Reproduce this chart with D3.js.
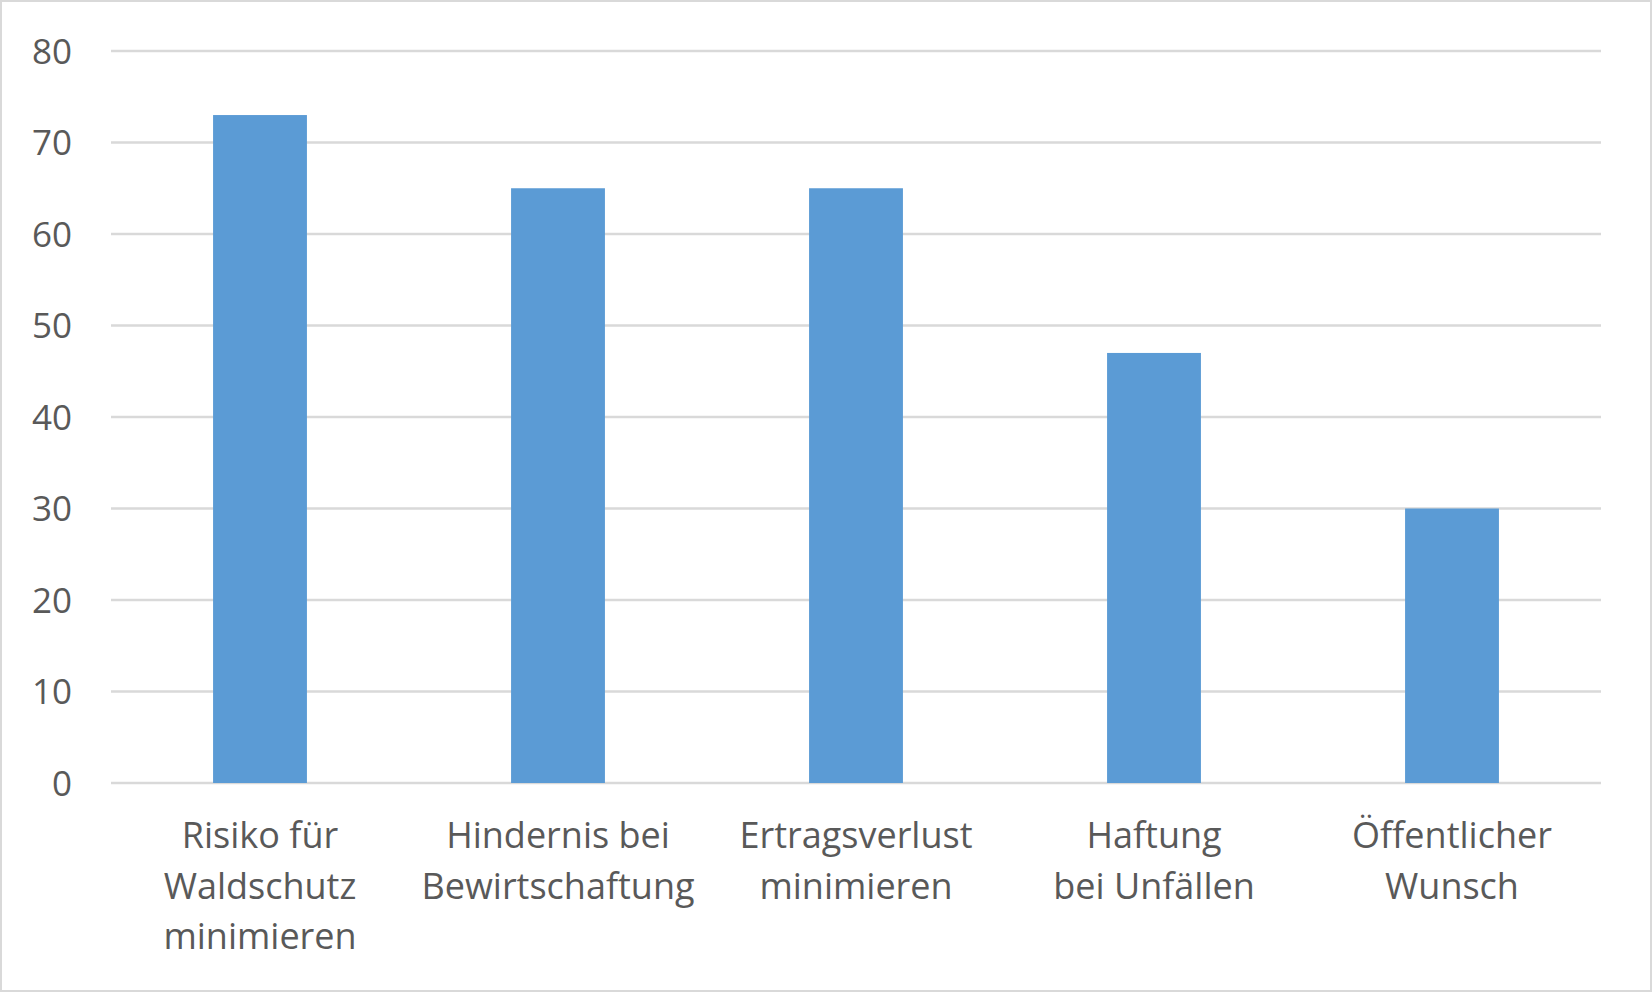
<!DOCTYPE html>
<html><head><meta charset="utf-8">
<script src="https://cdn.jsdelivr.net/npm/d3@7"></script>
<style>html,body{margin:0;padding:0;background:#fff;}svg{display:block;}</style>
</head><body>
<script>
const categories = ["Risiko für Waldschutz minimieren","Hindernis bei Bewirtschaftung","Ertragsverlust minimieren","Haftung bei Unfällen","Öffentlicher Wunsch"];
const categoryLines = [["Risiko für","Waldschutz","minimieren"],["Hindernis bei","Bewirtschaftung"],["Ertragsverlust","minimieren"],["Haftung","bei Unfällen"],["Öffentlicher","Wunsch"]];
const values = [73,65,65,47,30];
const yTicks = [0,10,20,30,40,50,60,70,80];

const W = 1652, H = 992;
const m = {left:111, right:51, top:51, bottom:209};
const svg = d3.select("body").append("svg").attr("width",W).attr("height",H);
svg.append("rect").attr("x",1).attr("y",1).attr("width",W-2).attr("height",H-2)
  .attr("fill","#fff").attr("stroke","#d9d9d9").attr("stroke-width",2);

const x = d3.scaleBand().domain(categories).range([m.left, W-m.right]).paddingInner(0.685).paddingOuter(0.3425);
const y = d3.scaleLinear().domain([0,80]).range([H-m.bottom, m.top]);
const font = "'Open Sans', sans-serif";

const grid = svg.append("g");
grid.selectAll("line").data(yTicks).join("line")
  .attr("x1",m.left).attr("x2",W-m.right)
  .attr("y1",d=>y(d)).attr("y2",d=>y(d))
  .attr("stroke","#d9d9d9").attr("stroke-width",2.5);

svg.append("g").selectAll("rect").data(values).join("rect")
  .attr("x",(d,i)=>x(categories[i])).attr("width",x.bandwidth())
  .attr("y",d=>y(d)).attr("height",d=>y(0)-y(d))
  .attr("fill","#5b9bd5");

const yAxis = d3.axisLeft(y).tickValues(yTicks).tickSize(0).tickPadding(0);
const ya = svg.append("g").attr("transform",`translate(72,0)`).call(yAxis);
ya.select(".domain").remove();
ya.selectAll("text").attr("font-family",font).attr("font-size",35).attr("fill","#595959").attr("dy","0.35em");

const xa = svg.append("g");
categoryLines.forEach((lines,i)=>{
  const cx = x(categories[i]) + x.bandwidth()/2;
  const t = xa.append("text").attr("text-anchor","middle").attr("font-family",font)
    .attr("font-size",36).attr("fill","#595959");
  lines.forEach((l,j)=>t.append("tspan").attr("x",cx).attr("y",848+j*50.5).text(l));
});
</script>
</body></html>
